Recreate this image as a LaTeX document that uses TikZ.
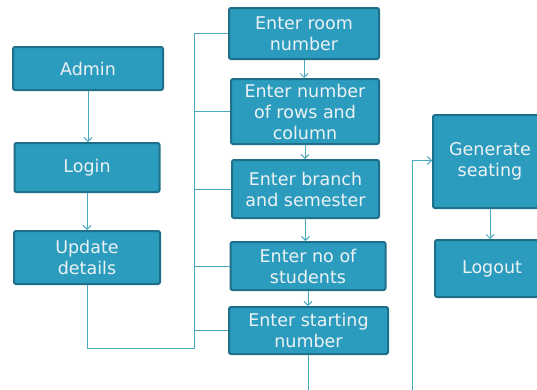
\documentclass[tikz,border=0pt]{standalone}
\usepackage{fontspec}
\setmainfont{DejaVu Sans}
\usetikzlibrary{arrows.meta}
\definecolor{boxfill}{RGB}{43,156,190}
\definecolor{boxline}{RGB}{30,112,138}
\definecolor{conn}{RGB}{75,169,190}
\definecolor{txt}{RGB}{236,242,244}
\tikzset{
  box/.style={draw=boxline, line width=2pt, fill=boxfill, rounded corners=2pt,
    text=txt, align=center, inner sep=0pt,
    font=\fontsize{17.5}{21}\selectfont},
  conn/.style={draw=conn, line width=0.9pt},
  arr/.style={conn, -{Straight Barb[length=4pt,width=8pt]}}
}
\begin{document}
\begin{tikzpicture}[x=1pt,y=-1pt]
\useasboundingbox (0,0) rectangle (537,389);
\node[box, minimum width=150pt, minimum height=43pt] (admin) at (88,68.5) {Admin};
\node[box, minimum width=145pt, minimum height=49pt] (login) at (87,167.5) {Login};
\node[box, minimum width=146pt, minimum height=53pt] (update) at (87,257.5) {Update\\details};
\node[box, minimum width=150pt, minimum height=51pt] (room) at (304,33.5) {Enter room\\number};
\node[box, minimum width=148pt, minimum height=65pt] (rows) at (305,111.5) {Enter number\\of rows and\\column};
\node[box, minimum width=147pt, minimum height=58pt] (branch) at (305.5,189) {Enter branch\\and semester};
\node[box, minimum width=155pt, minimum height=48pt] (students) at (308,266) {Enter no of\\students};
\node[box, minimum width=159pt, minimum height=47pt] (starting) at (308.5,330.5) {Enter starting\\number};
\node[box, minimum width=114pt, minimum height=93pt] (generate) at (490,161.5) {Generate\\seating};
\node[box, minimum width=114pt, minimum height=57pt] (logout) at (492,268.5) {Logout};

\draw[arr] (admin.south) -- (admin.south |- login.north);
\draw[arr] (login.south) -- (login.south |- update.north);
\draw[arr] (room.south) -- (room.south |- rows.north);
\draw[arr] (rows.south) -- (rows.south |- branch.north);
\draw[arr] (branch.south) -- (branch.south |- students.north);
\draw[arr] (students.south) -- (students.south |- starting.north);
\draw[arr] (generate.south) -- (generate.south |- logout.north);

\coordinate (bb) at (194,348.5);
\draw[conn] (update.south) |- (bb) |- (room.west);
\draw[conn] (rows.west) -- (rows.west -| bb);
\draw[conn] (branch.west) -- (branch.west -| bb);
\draw[conn] (students.west) -- (students.west -| bb);
\draw[conn] (starting.west) -- (starting.west -| bb);

\coordinate (c1) at (308.5,400);
\coordinate (c2) at (412,400);
\draw[arr] (starting.south) -- (c1) -- (c2) |- ([yshift=1pt]generate.west);
\end{tikzpicture}
\end{document}
